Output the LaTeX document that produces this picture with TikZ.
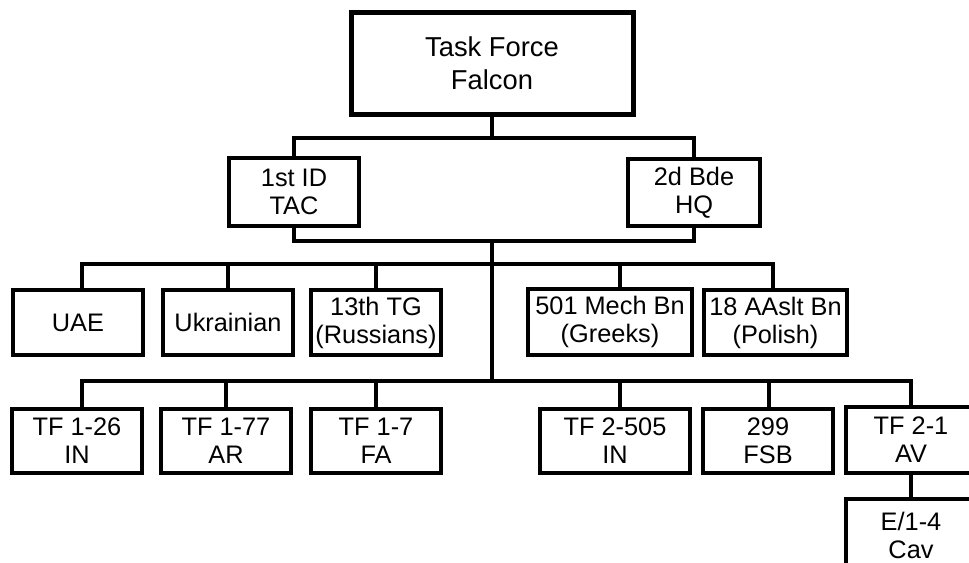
\documentclass[tikz,border=0pt]{standalone}
\usepackage{fontspec}
\setmainfont{Liberation Sans}
\begin{document}
\begin{tikzpicture}[x=0.75pt,y=-0.75pt,
  orgbox/.style n args={2}{draw, line width=3pt, minimum width=#1*0.75pt, minimum height=#2*0.75pt,
    inner sep=0pt, align=center, font=\fontsize{19}{21}\selectfont},
  conn/.style={line width=2.7pt, line join=miter}]
\useasboundingbox (0,0) rectangle (969,562);
\clip (0,0) rectangle (969,562);
% nodes
\node[orgbox={282}{102}, line width=3.75pt, font=\fontsize{20.5}{24.75}\selectfont] (tf) at (492,63.5) {Task Force\\Falcon};
\node[orgbox={130}{68}] (id) at (294,192) {1st ID\\TAC};
\node[orgbox={132}{67}] (bde) at (694,192.5) {2d Bde\\HQ};
\node[orgbox={130}{65}] (uae) at (78,322.5) {UAE};
\node[orgbox={130}{65}] (ukr) at (228,322.5) {Ukrainian};
\node[orgbox={130}{65}] (tg) at (376,322.5) {13th TG\\(Russians)};
\node[orgbox={164}{66}] (mech) at (610,322) {501 Mech Bn\\(Greeks)};
\node[orgbox={143}{65}] (pol) at (775.5,322.5) {18 AAslt Bn\\(Polish)};
\node[orgbox={130}{64}] (t126) at (77,441) {TF 1-26\\IN};
\node[orgbox={130}{64}] (t177) at (226,441) {TF 1-77\\AR};
\node[orgbox={130}{64}] (t17) at (376,441) {TF 1-7\\FA};
\node[orgbox={150}{64}] (t2505) at (615,441) {TF 2-505\\IN};
\node[orgbox={130}{64}] (fsb) at (768,441) {299\\FSB};
\node[orgbox={130}{66}] (t21) at (911,440) {TF 2-1\\AV};
\node[orgbox={130}{72}] (e14) at (911,535) {E/1-4\\Cav};
% junction coordinates
\coordinate (b1) at (492,138);
\coordinate (b2) at (492,241);
\coordinate (j2) at (492,264);
\coordinate (j3) at (492,381);
\coordinate (a1) at (82,264);
\coordinate (a2) at (228,264);
\coordinate (a3) at (376,264);
\coordinate (a4) at (620,264);
\coordinate (a5) at (773,264);
\coordinate (c1) at (82,381);
\coordinate (c2) at (226,381);
\coordinate (c3) at (376,381);
\coordinate (c4) at (620,381);
\coordinate (c5) at (769,381);
\coordinate (c6) at (911,381);
% connectors
\draw[conn, line width=3.2pt] (tf.south) -- (b1);
\draw[conn] (id.north) |- (b1) -| (bde.north);
\draw[conn] (id.south) |- (b2) -| (bde.south);
\draw[conn, line width=3.2pt] (b2) -- (j3);
\draw[conn] (a1 |- uae.north) -- (a1) -- (a5) -- (a5 |- pol.north);
\draw[conn] (a2) -- (a2 |- ukr.north);
\draw[conn] (a3) -- (a3 |- tg.north);
\draw[conn] (a4) -- (a4 |- mech.north);
\draw[conn] (c1 |- t126.north) -- (c1) -- (c6) -- (c6 |- t21.north);
\draw[conn] (c2) -- (c2 |- t177.north);
\draw[conn] (c3) -- (c3 |- t17.north);
\draw[conn] (c4) -- (c4 |- t2505.north);
\draw[conn] (c5) -- (c5 |- fsb.north);
\draw[conn] (t21.south) -- (e14.north);
\end{tikzpicture}
\end{document}
